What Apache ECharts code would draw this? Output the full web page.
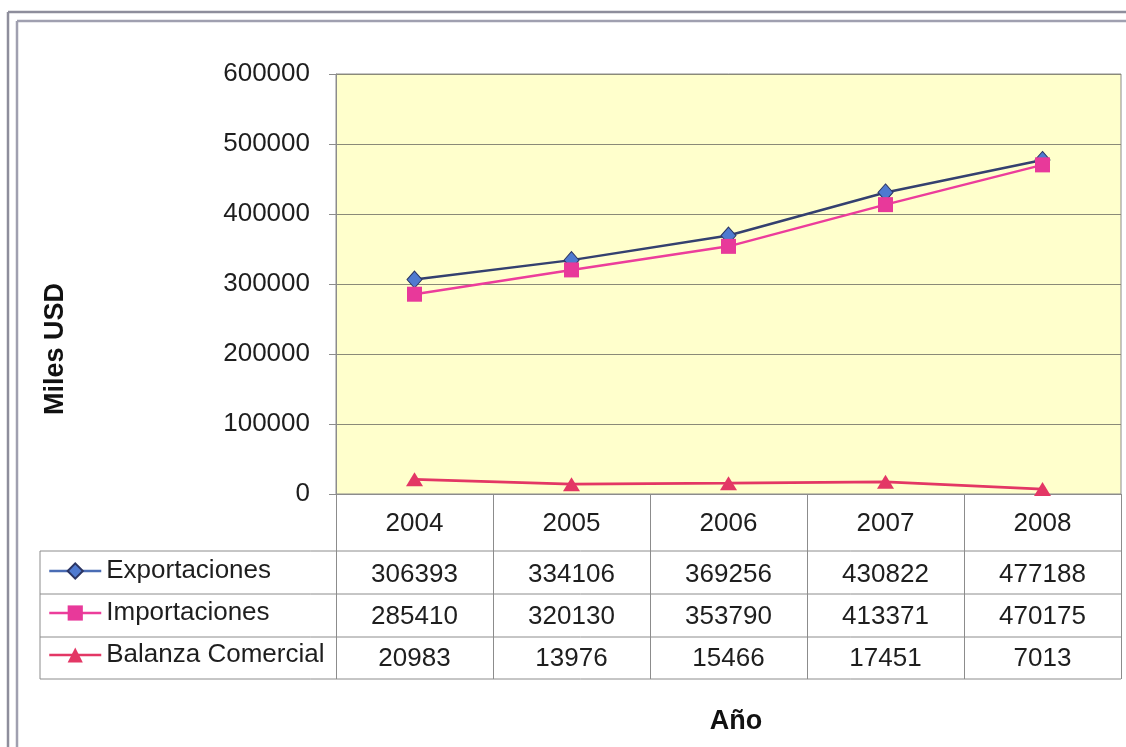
<!DOCTYPE html>
<html>
<head>
<meta charset="utf-8">
<script src="https://cdn.jsdelivr.net/npm/echarts@6/dist/echarts.min.js"></script>
<style>
  html, body { margin: 0; padding: 0; background: #ffffff; }
  #chart { width: 1126px; height: 747px; }
</style>
</head>
<body>
<div id="chart"></div>
<script>
// Comercio exterior, miles de USD, 2004-2008
const years = ['2004', '2005', '2006', '2007', '2008'];
const exportaciones = [306393, 334106, 369256, 430822, 477188];
const importaciones = [285410, 320130, 353790, 413371, 470175];
const balanza = [20983, 13976, 15466, 17451, 7013];
const seriesNames = ['Exportaciones', 'Importaciones', 'Balanza Comercial'];
const yTicks = { min: 0, max: 600000, step: 100000 };

const FONT = '"Liberation Sans", Arial, sans-serif';
const TEXT = '#1e1e1e';
const RULE = '#8c8c8c';
const FS = 26;

// plot box (pixels)
const G = { left: 336, top: 74, right: 1121, bottom: 494 };
// data table rows below the plot
const rowLines = [551, 594, 637, 679];
const tableLeft = 40;

const chart = echarts.init(document.getElementById('chart'), null, { renderer: 'canvas' });

function valueAxis(values, offset) {
  return {
    type: 'category',
    gridIndex: 0,
    position: 'bottom',
    offset: offset,
    data: values.map(v => String(v)),
    boundaryGap: true,
    axisLine: { show: false },
    axisTick: { show: false },
    splitLine: { show: false },
    axisLabel: { fontFamily: FONT, fontSize: FS, color: TEXT, margin: 17 }
  };
}

function rowLegend(name, top, lineColor) {
  return {
    data: [name],
    left: 48,
    top: top,
    orient: 'vertical',
    itemWidth: 52,
    itemHeight: 19,
    padding: 0,
    selectedMode: false,
    lineStyle: { width: 2.5, color: lineColor },
    textStyle: { fontFamily: FONT, fontSize: FS, color: TEXT }
  };
}

const graphics = [];
// double frame around the chart area
[[8, 12, 2.5, '#8e8e9c'], [17, 21, 2.5, '#a0a0b0']].forEach(([x, y, w, c]) => {
  graphics.push({ type: 'line', shape: { x1: x, y1: y, x2: 1126, y2: y }, style: { stroke: c, lineWidth: w }, silent: true });
  graphics.push({ type: 'line', shape: { x1: x, y1: y, x2: x, y2: 747 }, style: { stroke: c, lineWidth: w }, silent: true });
});
// table rules
rowLines.forEach(y => {
  graphics.push({ type: 'line', shape: { x1: tableLeft, y1: y, x2: G.right, y2: y }, style: { stroke: RULE, lineWidth: 1 }, silent: true });
});
graphics.push({ type: 'line', shape: { x1: tableLeft, y1: rowLines[0], x2: tableLeft, y2: rowLines[rowLines.length - 1] }, style: { stroke: RULE, lineWidth: 1 }, silent: true });
// axis titles
graphics.push({
  type: 'text', x: 56, y: 349, rotation: Math.PI / 2,
  style: { text: 'Miles USD', font: 'bold 27px ' + FONT, fill: '#111', align: 'center', verticalAlign: 'middle' }
});
graphics.push({
  type: 'text', x: 736, y: 722,
  style: { text: 'Año', font: 'bold 27px ' + FONT, fill: '#111', align: 'center', verticalAlign: 'middle' }
});

const option = {
  animation: false,
  backgroundColor: '#ffffff',
  grid: {
    left: G.left, top: G.top, width: G.right - G.left, height: G.bottom - G.top,
    show: true, backgroundColor: '#FFFFCC', borderColor: RULE, borderWidth: 1
  },
  legend: [
    rowLegend(seriesNames[0], 558, '#4a6cb4'),
    rowLegend(seriesNames[1], 600, '#ec3d9b'),
    rowLegend(seriesNames[2], 642, '#e33765')
  ],
  xAxis: [
    {
      type: 'category',
      gridIndex: 0,
      position: 'bottom',
      data: years,
      boundaryGap: true,
      axisLine: { show: true, lineStyle: { color: RULE, width: 1 } },
      axisTick: { show: true, length: rowLines[rowLines.length - 1] - G.bottom, lineStyle: { color: RULE, width: 1 } },
      axisLabel: { fontFamily: FONT, fontSize: FS, color: TEXT, margin: 17 },
      splitLine: { show: false }
    },
    valueAxis(exportaciones, 51),
    valueAxis(importaciones, 93),
    valueAxis(balanza, 135)
  ],
  yAxis: {
    type: 'value',
    min: yTicks.min,
    max: yTicks.max,
    interval: yTicks.step,
    axisLine: { show: true, lineStyle: { color: RULE, width: 1 } },
    axisTick: { show: true, length: 7, lineStyle: { color: RULE } },
    axisLabel: { fontFamily: FONT, fontSize: FS, color: TEXT, margin: 26, padding: [4, 0, 0, 0], formatter: v => String(v) },
    splitLine: { show: true, lineStyle: { color: '#8a8a78', width: 1.2 } }
  },
  series: [
    {
      name: seriesNames[0], type: 'line', xAxisIndex: 0, data: exportaciones,
      symbol: 'diamond', symbolSize: [15, 17],
      lineStyle: { color: '#34406f', width: 2.5 },
      itemStyle: { color: '#4f7ad0', borderColor: '#2b3563', borderWidth: 1 }
    },
    {
      name: seriesNames[1], type: 'line', xAxisIndex: 0, data: importaciones,
      symbol: 'rect', symbolSize: 15,
      lineStyle: { color: '#ec3d9b', width: 2.5 },
      itemStyle: { color: '#e8399a', borderColor: '#e8399a', borderWidth: 0 }
    },
    {
      name: seriesNames[2], type: 'line', xAxisIndex: 0, data: balanza,
      symbol: 'triangle', symbolSize: [17, 14],
      lineStyle: { color: '#e33765', width: 2.8 },
      itemStyle: { color: '#e33765', borderWidth: 0 }
    }
  ],
  graphic: graphics
};

chart.setOption(option);
</script>
</body>
</html>
